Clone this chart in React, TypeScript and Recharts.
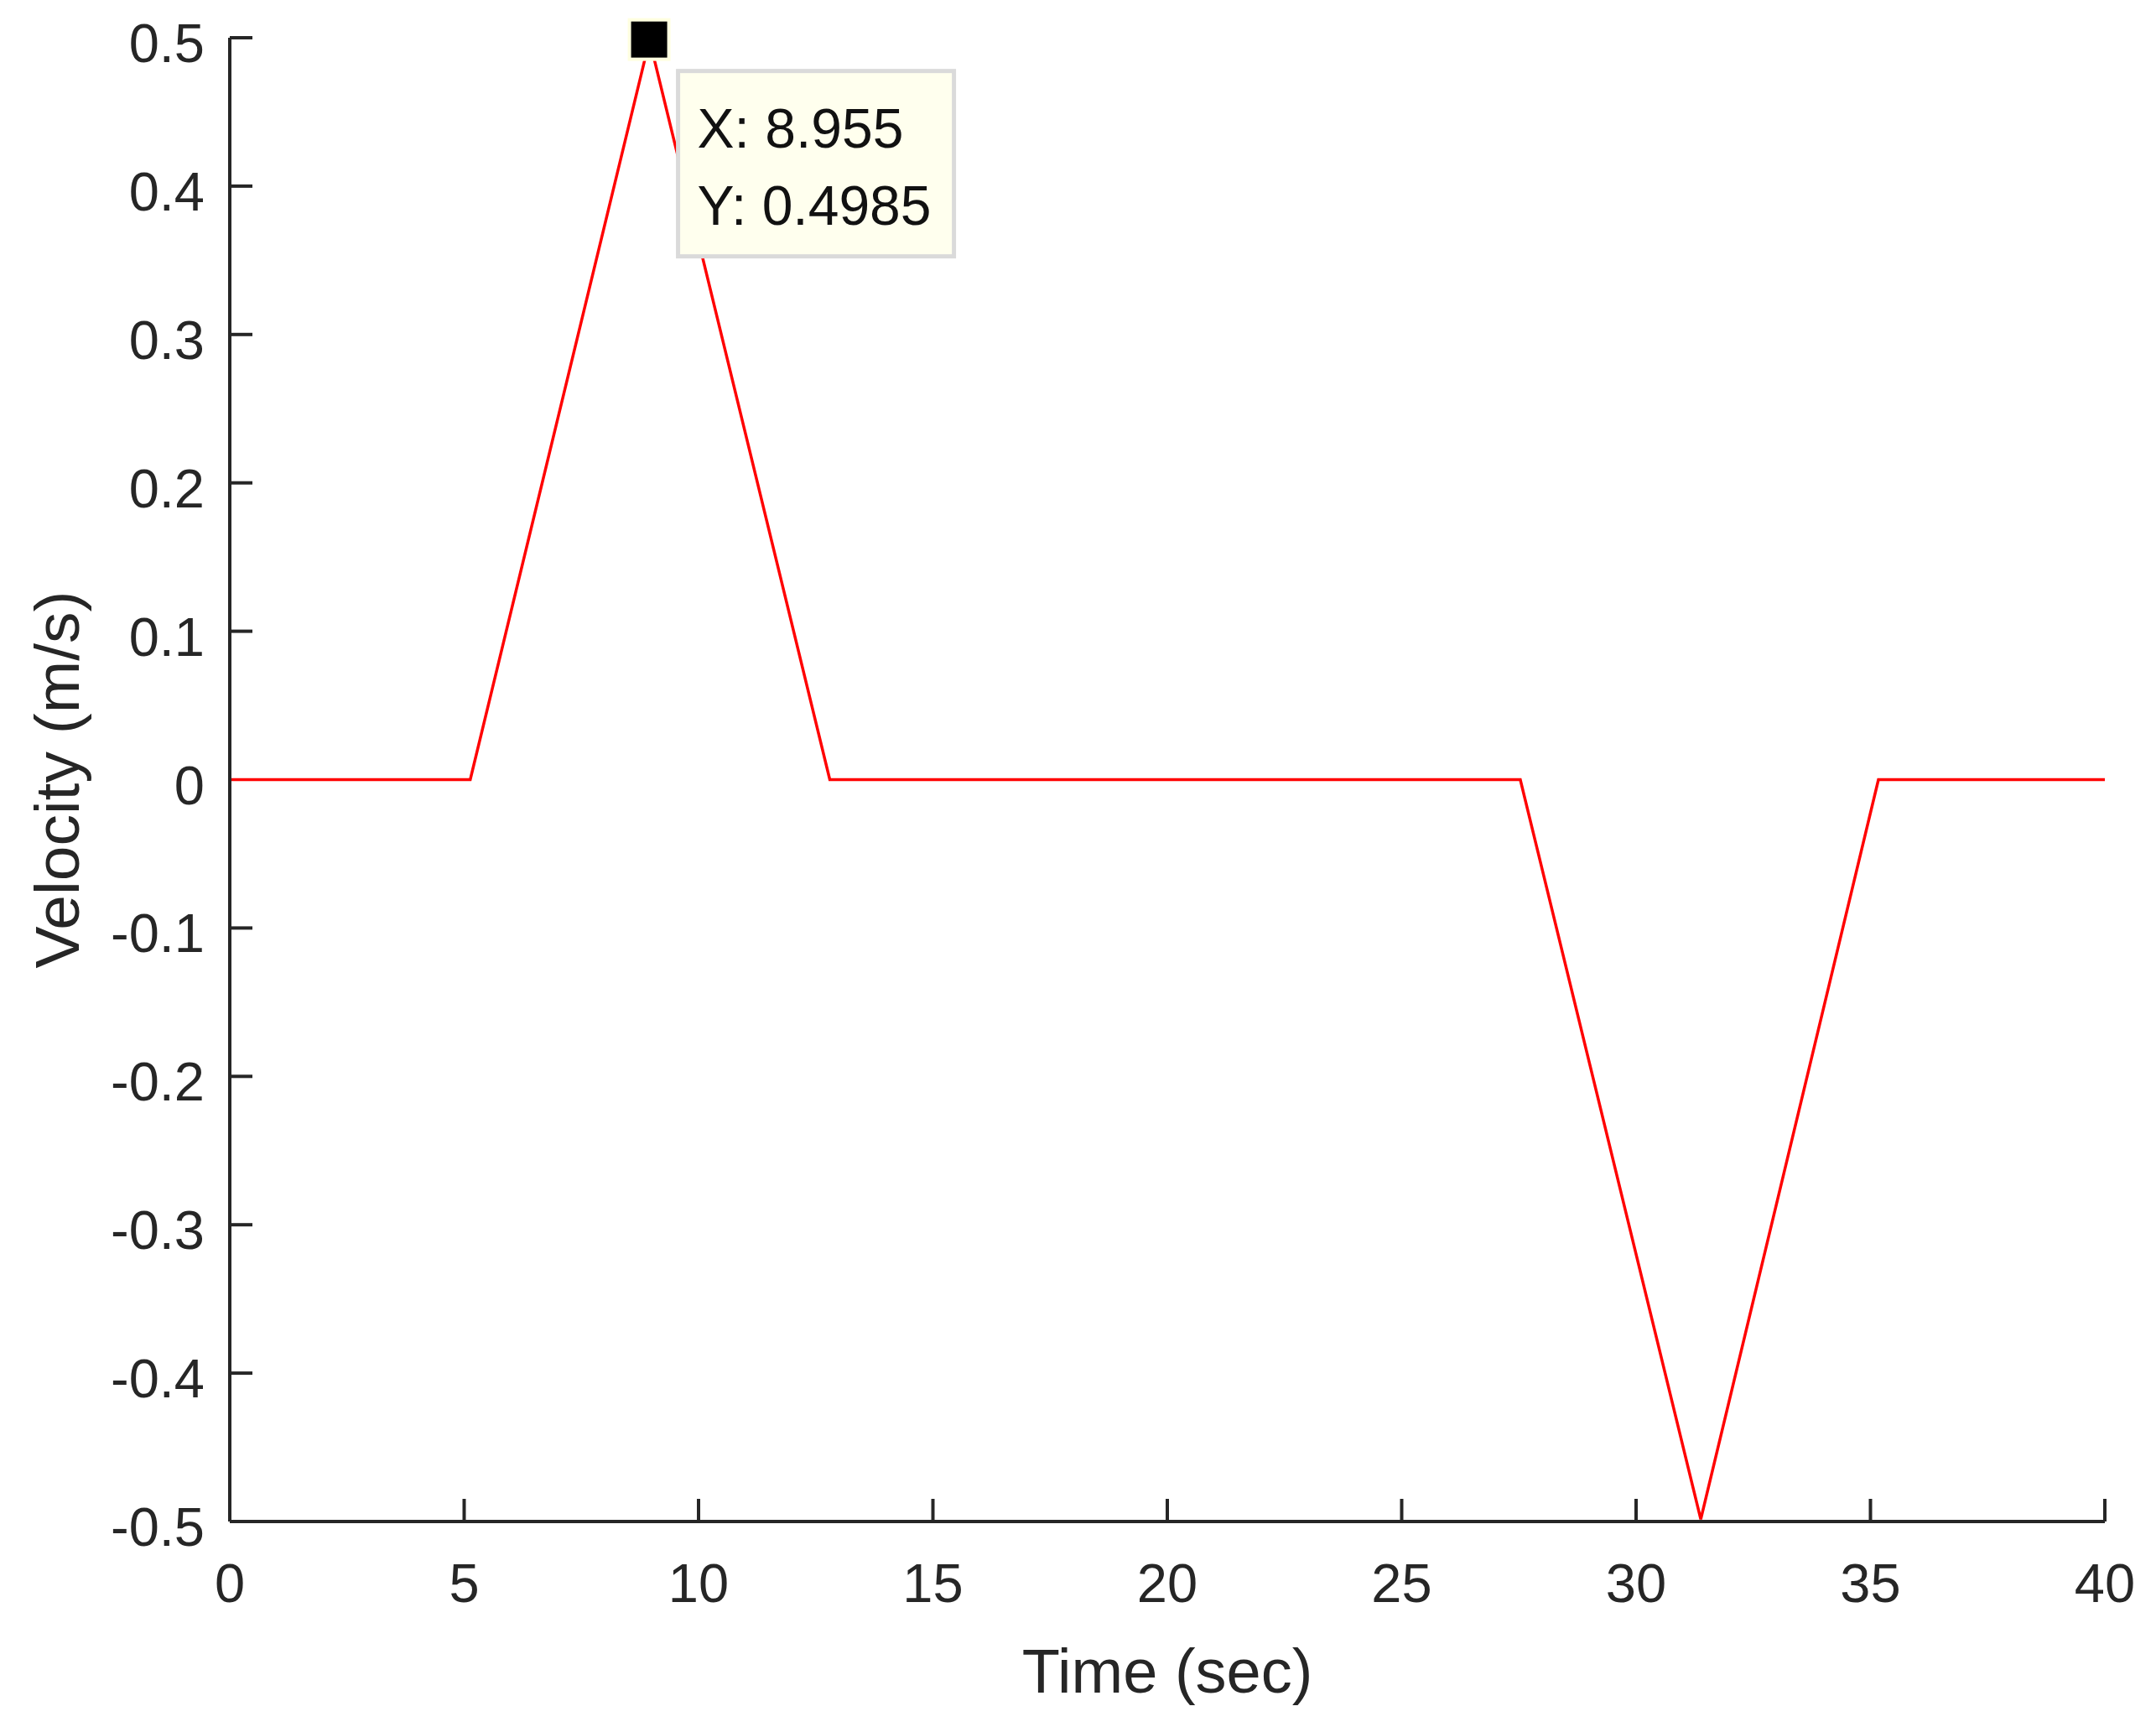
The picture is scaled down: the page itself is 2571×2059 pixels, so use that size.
import React from 'react';
import { LineChart, Line, XAxis, YAxis, ReferenceDot, Label } from 'recharts';

// velocity profile (corner points of the trapezoid/triangle shapes)
const timeSec = [0, 5.13, 8.955, 12.8, 27.53, 31.38, 35.17, 40];
const velocity = [0, 0, 0.4985, 0, 0, -0.4985, 0, 0];

const xTicks = [0, 5, 10, 15, 20, 25, 30, 35, 40];
const yTicks = [-0.5, -0.4, -0.3, -0.2, -0.1, 0, 0.1, 0.2, 0.3, 0.4, 0.5];

const tipX = 8.955;
const tipY = 0.4985;

const FONT = "Arial, 'Liberation Sans', Helvetica, sans-serif";
const AXIS = '#262626';

const chartData = timeSec.map((t, i) => ({ t, v: velocity[i] }));

const XTick = ({ x, y, payload }: any) => (
  <g>
    <line x1={x} x2={x} y1={y} y2={y - 27} stroke={AXIS} strokeWidth={4} />
    <text x={x} y={y + 96} textAnchor="middle" fontSize={65} fontFamily={FONT} fill={AXIS}>
      {String(payload.value)}
    </text>
  </g>
);

// axes are painted above the series here, so the tick hidden under the red
// zero line in the original is left out
const YTick = ({ x, y, payload }: any) => (
  <g>
    {payload.value !== 0 && (
      <line x1={x} x2={x + 27} y1={y} y2={y} stroke={AXIS} strokeWidth={4} />
    )}
    <text x={x - 30} y={y + 29} textAnchor="end" fontSize={65} fontFamily={FONT} fill={AXIS}>
      {String(payload.value)}
    </text>
  </g>
);

// MATLAB-style data tip: black square marker plus a yellow info box
const DataTip = ({ cx, cy }: any) => (
  <g>
    <rect x={cx - 24} y={cy - 24} width={47} height={47} fill="#000000" stroke="#FFFFE0" strokeWidth={4} />
    <rect x={cx + 34} y={cy + 37} width={329} height={221} fill="#FFFFEE" stroke="#DADADA" strokeWidth={5} />
    <text x={cx + 57} y={cy + 128} fontSize={66} fontFamily={FONT} fill="#111111">
      {`X: ${tipX}`}
    </text>
    <text x={cx + 57} y={cy + 220} fontSize={66} fontFamily={FONT} fill="#111111">
      {`Y: ${tipY}`}
    </text>
  </g>
);

export default function App() {
  return (
    <div style={{ position: 'absolute', left: 0, top: 0, background: '#fff' }}>
      <LineChart
        width={2571}
        height={2059}
        data={chartData}
        margin={{ top: 45, right: 61, left: 0, bottom: 0 }}
      >
        <XAxis
          dataKey="t"
          type="number"
          domain={[0, 40]}
          ticks={xTicks}
          interval={0}
          height={245}
          tickSize={0}
          tickMargin={0}
          tickLine={false}
          axisLine={{ stroke: AXIS, strokeWidth: 4 }}
          tick={<XTick />}
        >
          <Label
            content={({ viewBox }: any) => (
              <text
                x={viewBox.x + viewBox.width / 2}
                y={viewBox.y + 204}
                textAnchor="middle"
                fontSize={74}
                fontFamily={FONT}
                fill={AXIS}
              >
                Time (sec)
              </text>
            )}
          />
        </XAxis>
        <YAxis
          type="number"
          domain={[-0.5, 0.5]}
          ticks={yTicks}
          interval={0}
          width={274}
          tickSize={0}
          tickMargin={0}
          tickLine={false}
          axisLine={{ stroke: AXIS, strokeWidth: 4 }}
          tick={<YTick />}
        >
          <Label
            content={({ viewBox }: any) => {
              const cx = 68;
              const cy = viewBox.y + viewBox.height / 2;
              return (
                <text
                  x={cx}
                  y={cy}
                  transform={`rotate(-90 ${cx} ${cy})`}
                  textAnchor="middle"
                  dominantBaseline="central"
                  fontSize={75}
                  fontFamily={FONT}
                  fill={AXIS}
                >
                  Velocity (m/s)
                </text>
              );
            }}
          />
        </YAxis>
        <Line
          type="linear"
          dataKey="v"
          stroke="#FF0000"
          strokeWidth={3.5}
          dot={false}
          activeDot={false}
          isAnimationActive={false}
        />
        <ReferenceDot x={tipX} y={tipY} ifOverflow="visible" shape={<DataTip />} />
      </LineChart>
    </div>
  );
}
